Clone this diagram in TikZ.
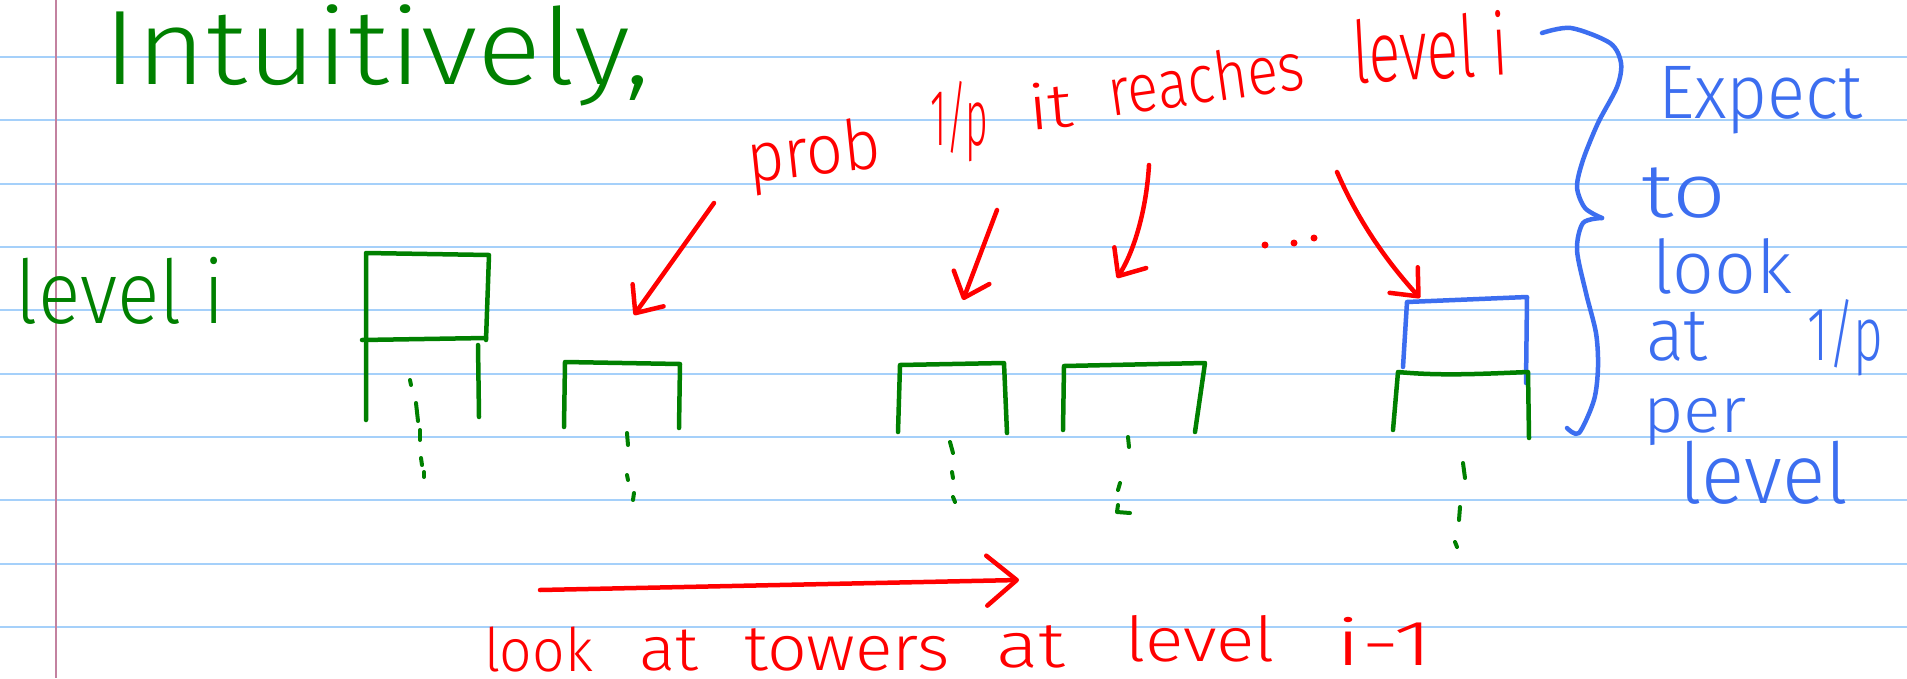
\documentclass[tikz,border=0pt]{standalone}
\usepackage{fontspec}
\setmainfont{Fira Sans}[UprightFont={* Light}]
\usepackage{graphicx}
\usetikzlibrary{arrows.meta}
\definecolor{gink}{RGB}{0,128,0}
\definecolor{rink}{RGB}{255,0,0}
\definecolor{bink}{RGB}{60,110,240}
\definecolor{ruleblue}{RGB}{165,208,250}
\definecolor{marginpink}{RGB}{195,130,160}
% width (pt), font size (pt), text
\newcommand{\hw}[3]{\resizebox{#1pt}{\height}{\fontsize{#2}{#2}\selectfont #3}}
\begin{document}
\begin{tikzpicture}[x=1pt,y=-1pt,
  pen/.style={line width=4.5pt,line cap=round,line join=round},
  gpen/.style={pen,draw=gink},
  rpen/.style={pen,draw=rink},
  bpen/.style={pen,draw=bink},
  gdot/.style={gpen,line width=4pt},
  word/.style={anchor=base west,inner sep=0pt,outer sep=0pt},
  rarrow/.style={rpen,-{Straight Barb[length=22pt,width=38pt,round]}},
  bigarrow/.style={rpen,-{Straight Barb[length=30pt,width=50pt,round]}}]
\fill[white] (0,0) rectangle (1907,678);
\useasboundingbox (0,0) rectangle (1907,678);
% ruled paper
\foreach \k in {0,...,9} \draw[ruleblue,line width=2pt] (0,{57+63.33*\k}) -- (1907,{57+63.33*\k});
\draw[marginpink,line width=2pt] (56,0) -- (56,678);

% green text
\node[word,text=gink] (title) at (103,84) {\hw{547}{106}{Intuitively,}};
\node[word,text=gink] (lvl) at (16,323) {\hw{209}{88}{level i}};

% red top text
\node[word,text=rink,rotate=6] (prob) at (749,182) {\hw{134}{70}{prob}};
\node[word,text=rink] (frac) at (930,145) {\hw{58}{80}{1/p}};
\node[word,text=rink,rotate=5] (it) at (1030,130) {\hw{45}{62}{it}};
\node[word,text=rink,rotate=8] (reaches) at (1111,116) {\hw{198}{68}{reaches}};
\node[word,text=rink,rotate=3] (lvli) at (1354,83) {\hw{155}{86}{level i}};

% blue text
\node[word,text=bink] (expect) at (1658,118) {\hw{205}{76}{Expect}};
\node[word,text=bink] (to) at (1641,217) {\hw{85}{76}{to}};
\node[word,text=bink] (look) at (1652,293) {\hw{140}{74}{look}};
\node[word,text=bink] (at) at (1646,360) {\hw{62}{74}{at}};
\node[word,text=bink] (bfrac) at (1807,360) {\hw{76}{76}{1/p}};
\node[word,text=bink] (per) at (1643,432) {\hw{104}{64}{per}};
\node[word,text=bink] (blevel) at (1679,503) {\hw{169}{84}{level}};

% red bottom text
\node[word,text=rink] (b1) at (484,671) {\hw{109}{60}{look}};
\node[word,text=rink] (b2) at (639,670) {\hw{59}{62}{at}};
\node[word,text=rink] (b3) at (744,670) {\hw{206}{64}{towers}};
\node[word,text=rink] (b4) at (996,667) {\hw{69}{64}{at}};
\node[word,text=rink] (b5) at (1125,661) {\hw{150}{62}{level}};
\node[word,text=rink] (b6) at (1335,665) {\hw{98}{64}{i-1}};

% towers
\draw[gpen] (366,420) -- (366,253) -- (489,255) -- (486,340);
\draw[gpen] (362,340) -- (486,338);
\draw[gpen] (478,345) -- (479,417);
\draw[gpen] (564,427) -- (565,362) -- (680,364) -- (679,428);
\draw[gpen] (898,432) -- (900,365) -- (1004,363) -- (1007,433);
\draw[gpen] (1063,430) -- (1064,366) -- (1205,363) -- (1195,432);
\draw[bpen] (1403,367) -- (1407,302) -- (1527,297) -- (1526,383);
\draw[gpen] (1393,430) -- (1398,372) .. controls (1440,376) and (1480,374) .. (1528,372) -- (1529,438);

% dotted continuations
\draw[gdot] (410,380) -- (411,385);
\draw[gdot] (416,403) -- (418,421);
\draw[gdot] (420,430) -- (420,440);
\draw[gdot] (421,458) -- (422,465);
\draw[gdot] (424,472) -- (424,477);
\draw[gdot] (627,433) -- (628,445);
\draw[gdot] (627,475) -- (628,480);
\draw[gdot] (634,493) -- (633,500);
\draw[gdot] (950,442) -- (953,453);
\draw[gdot] (952,472) -- (953,478);
\draw[gdot] (953,497) -- (955,502);
\draw[gdot] (1128,437) -- (1129,447);
\draw[gdot] (1120,483) -- (1118,490);
\draw[gdot] (1118,505) -- (1117,512) -- (1130,513);
\draw[gdot] (1463,463) -- (1465,478);
\draw[gdot] (1460,507) -- (1459,520);
\draw[gdot] (1455,542) -- (1457,547);

% red dots
\fill[rink] (1265,245) circle (3.5pt);
\fill[rink] (1294,243) circle (3.5pt);
\fill[rink] (1314,238) circle (3.5pt);

% arrows
\coordinate (a1s) at (714,203); \coordinate (a1e) at (634,315);
\coordinate (a2s) at (997,210); \coordinate (a2e) at (963,300);
\coordinate (a3s) at (1149,165); \coordinate (a3e) at (1117,278);
\coordinate (a4s) at (1337,172); \coordinate (a4e) at (1420,298);
\coordinate (a5s) at (540,590); \coordinate (a5e) at (1019,580);
\draw[rarrow] (a1s) -- (a1e);
\draw[rarrow] (a2s) -- (a2e);
\draw[rarrow] (a3s) .. controls (1146,215) and (1132,255) .. (a3e);
\draw[rarrow] (a4s) .. controls (1360,225) and (1390,265) .. (a4e);
\draw[bigarrow] (a5s) -- (a5e);

% brace
\draw[bpen] plot[smooth] coordinates {(1542,33) (1571,28) (1610,43) (1621,63) (1617,87) (1598,123) (1583,160) (1577,187) (1585,208) (1602,218)};
\draw[bpen] plot[smooth] coordinates {(1602,218) (1583,223) (1577,250) (1586,293) (1596,333) (1598,367) (1594,400) (1579,433) (1567,428)};
\end{tikzpicture}
\end{document}
